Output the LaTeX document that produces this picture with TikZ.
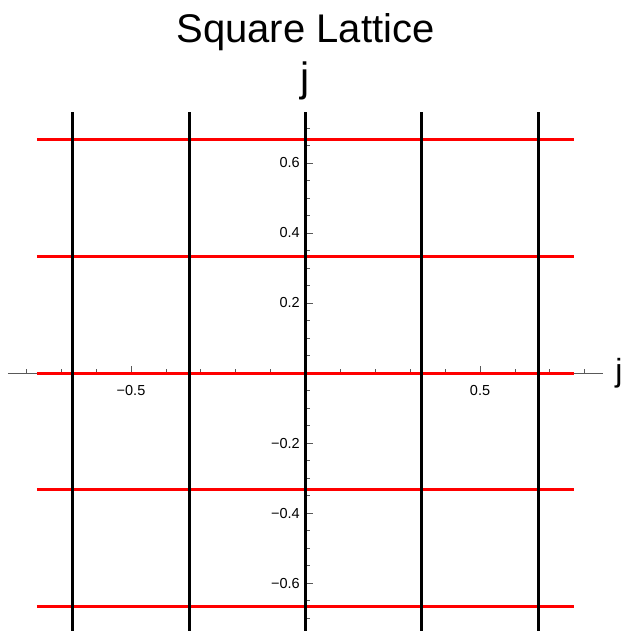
\documentclass[tikz,border=0pt]{standalone}
\usepackage{fontspec}
\setmainfont{Liberation Sans}
\usepackage{tikz}

\begin{document}
\begin{tikzpicture}[
    x=349pt, y=350pt,
    axis/.style={draw=black!65, line width=0.8pt},
    tick/.style={draw=black!65, line width=0.8pt},
    redline/.style={draw=red, line width=3pt},
    blackline/.style={draw=black, line width=3pt},
    ticklabel/.style={font=\fontsize{14.5}{17}\selectfont, inner sep=0pt},
    bigtext/.style={font=\fontsize{40}{48}\selectfont, inner sep=0pt}
]
\useasboundingbox (-0.8754,-0.7371) rectangle (0.9040,1.0657);

% --- Axes ---
\coordinate (xleft) at (-0.853,0);
\coordinate (xright) at (0.852,0);
\coordinate (ybottom) at (0,-0.74);
\coordinate (ytop) at (0,0.746);
\draw[axis] (xleft) -- (xright);
\draw[axis] (ybottom) -- (ytop);

\foreach \i in {-8,...,-1,1,2,...,8}
    \draw[tick] (\i/10,0) -- ++(0,4pt);
\foreach \i in {-14,...,-1,1,2,...,14}
    \draw[tick] (0,\i/20) -- ++(4pt,0);

% --- Tick labels ---
\foreach \n/\v/\t in {m/-0.5/−0.5, p/0.5/0.5} {
    \draw[tick] (\v,0) -- ++(0,7pt);
    \node[ticklabel, anchor=north] (xlab\n) at (\v,-0.034) {\t};
}
\foreach \n/\v/\t in {a/0.6/0.6, b/0.4/0.4, c/0.2/0.2, d/-0.2/−0.2, e/-0.4/−0.4, f/-0.6/−0.6} {
    \draw[tick] (0,\v) -- ++(7pt,0);
    \node[ticklabel, anchor=east] (ylab\n) at (-0.016,\v) {\t};
}

% --- Lattice lines ---
\foreach \k in {-2,...,2}
    \draw[redline] (-0.77,\k/3) -- (0.77,\k/3);
\foreach \k in {-2,...,2}
    \draw[blackline] (\k/3,-0.74) -- (\k/3,0.746);

% --- Titles ---
\node[bigtext, anchor=base] (title) at (0,0.9457) {Square Lattice};
\node[font=\fontsize{41}{48}\selectfont, inner sep=0pt, anchor=base west] (ylabel) at (-0.0158,0.805) {j};
\node[font=\fontsize{32}{38}\selectfont, inner sep=0pt, anchor=base west] (xlabel) at (0.887,-0.023) {j};

\end{tikzpicture}
\end{document}
